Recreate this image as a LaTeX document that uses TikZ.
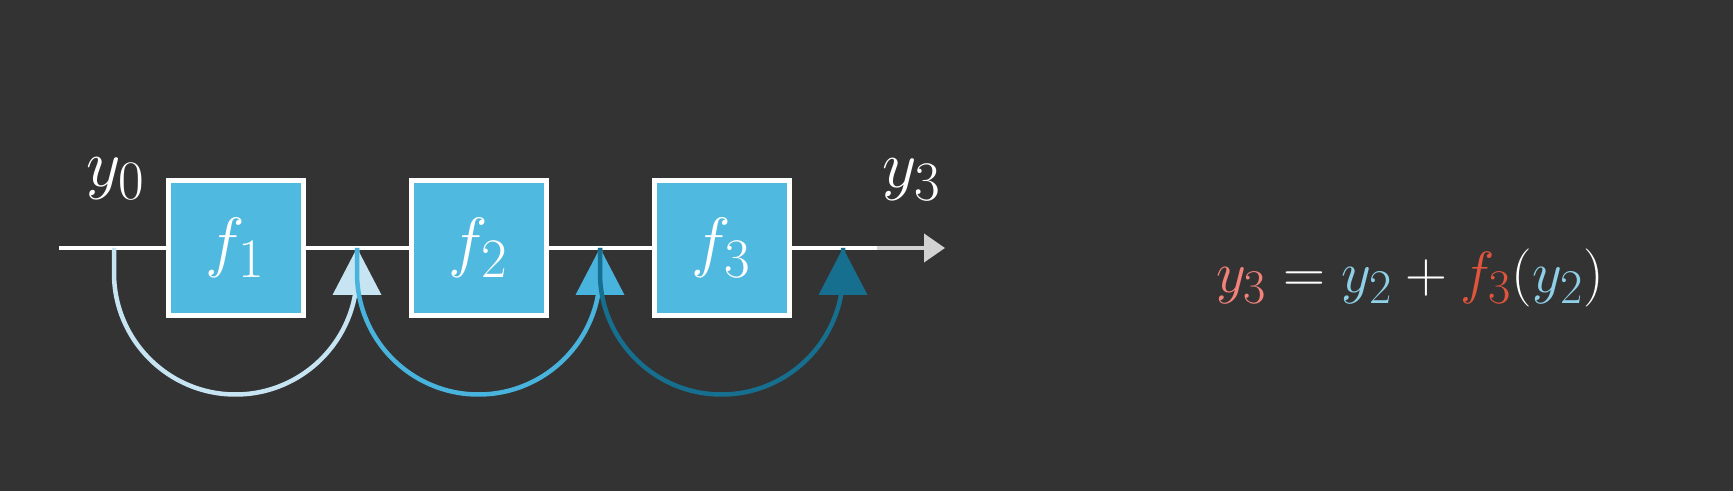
\documentclass[tikz,border=0pt]{standalone}
\usepackage{amsmath}
\usepackage{graphicx}
\usepackage{xcolor}
\usepackage{tikz}
\usetikzlibrary{arrows.meta, calc, positioning}
\definecolor{mybg}{HTML}{333333}
\definecolor{myblue}{HTML}{4FB9DF}
\definecolor{mylight}{HTML}{C6E4F1}
\definecolor{mymid}{HTML}{48B3DC}
\definecolor{mydark}{HTML}{166F8F}
\definecolor{mygray}{HTML}{D2D2D2}
\definecolor{mysalmon}{HTML}{F2827A}
\definecolor{mysky}{HTML}{8ED0E8}
\definecolor{myred}{HTML}{E0553C}
\newcommand{\bigmath}[2]{\scalebox{#1}{\Huge$#2$}}

\begin{document}
\begin{tikzpicture}[
    block/.style={rectangle, draw=white, line width=0.1cm, fill=myblue, minimum size=2.7cm, inner sep=0pt, text=white},
    lbl/.style={text=white},
    skip/.style={line width=0.09cm}]
    \fill[mybg] (0,0) rectangle (34.66,9.82);
    \useasboundingbox (0,0) rectangle (34.66,9.82);
    % points on the main line
    \coordinate (in)  at (1.18,4.86);
    \coordinate (j0)  at (2.28,4.86);
    \coordinate (j1)  at (7.14,4.86);
    \coordinate (j2)  at (12.00,4.86);
    \coordinate (j3)  at (16.86,4.86);
    \coordinate (g)   at (17.54,4.86);
    \coordinate (out) at (18.90,4.86);
    \draw[white, line width=0.08cm] (in) -- (g);
    \draw[mygray, line width=0.08cm, -{Triangle[length=0.42cm, width=0.56cm]}] (g) -- (out);
    \node[block] (f1) at (4.71,4.86)  {\bigmath{1.53}{f_1}};
    \node[block] (f2) at (9.57,4.86)  {\bigmath{1.53}{f_2}};
    \node[block] (f3) at (14.43,4.86) {\bigmath{1.53}{f_3}};
    \node[lbl] (y0) at (2.32,6.24)  {\bigmath{1.53}{y_0}};
    \node[lbl] (y3) at (18.24,6.22) {\bigmath{1.53}{y_3}};
    % skip connections
    \draw[skip, mylight] (j0) -- ++(0,-0.5) arc[start angle=180, end angle=360, radius=2.43] -- (j1);
    \fill[mylight] (j1) -- ++(-0.49,-0.94) -- ++(0.98,0) -- cycle;
    \draw[skip, mymid] (j1) -- ++(0,-0.5) arc[start angle=180, end angle=360, radius=2.43] -- (j2);
    \fill[mymid] (j2) -- ++(-0.49,-0.94) -- ++(0.98,0) -- cycle;
    \draw[skip, mydark] (j2) -- ++(0,-0.5) arc[start angle=180, end angle=360, radius=2.43] -- (j3);
    \fill[mydark] (j3) -- ++(-0.49,-0.94) -- ++(0.98,0) -- cycle;
    % residual equation
    \node[text=white] (eq) at (28.2,4.26)
        {\bigmath{1.33}{\textcolor{mysalmon}{y_3} = \textcolor{mysky}{y_2} + \textcolor{myred}{f_3}(\textcolor{mysky}{y_2})}};
\end{tikzpicture}
\end{document}
